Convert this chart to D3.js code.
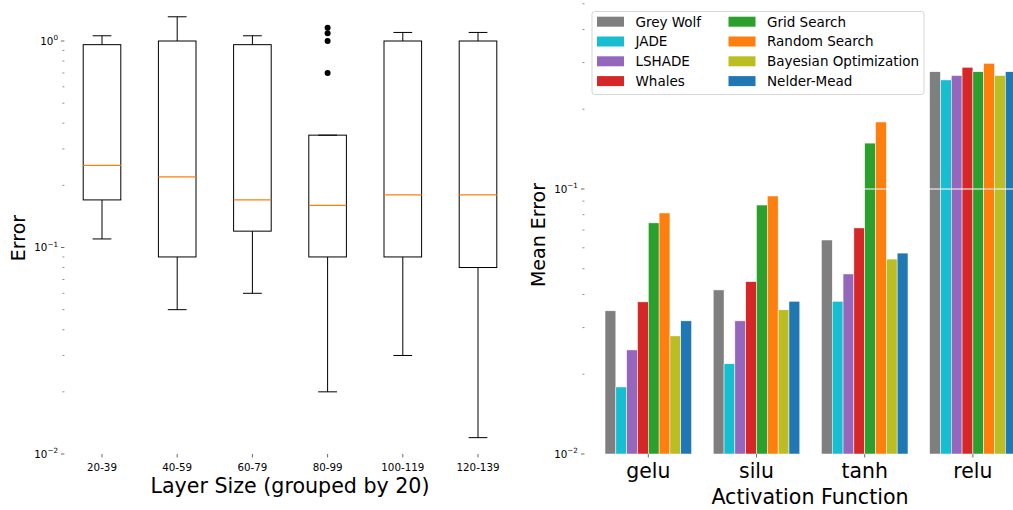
<!DOCTYPE html>
<html>
<head>
<meta charset="utf-8">
<script src="https://cdn.jsdelivr.net/npm/d3@7"></script>
<style>
  body { margin: 0; background: #fff; }
  text { font-family: "DejaVu Sans", sans-serif; fill: #000; }
</style>
</head>
<body>
<svg width="1013" height="510"></svg>
<script>
// --- Data: left panel (box plot of error by layer size) ---
const layerGroups = ["20-39", "40-59", "60-79", "80-99", "100-119", "120-139"];
const whiskLow  = [0.11, 0.05, 0.06, 0.02, 0.03, 0.012];
const q1        = [0.17, 0.09, 0.12, 0.09, 0.09, 0.08];
const medians   = [0.25, 0.22, 0.17, 0.16, 0.18, 0.18];
const q3        = [0.96, 1.0, 0.96, 0.35, 1.0, 1.0];
const whiskHigh = [1.06, 1.31, 1.06, 0.35, 1.1, 1.1];
const fliers    = [[], [], [], [1.16, 1.09, 1.0, 0.70], [], []];

// --- Data: right panel (mean error by activation) ---
const activations = ["gelu", "silu", "tanh", "relu"];
const methods = ["Grey Wolf", "JADE", "LSHADE", "Whales", "Grid Search", "Random Search", "Bayesian Optimization", "Nelder-Mead"];
const methodColors = ["#7f7f7f", "#17becf", "#9467bd", "#d62728", "#2ca02c", "#ff7f0e", "#bcbd22", "#1f77b4"];
const greyWolf     = [0.0347, 0.0416, 0.0642, 0.277];
const jade         = [0.0179, 0.0219, 0.0377, 0.258];
const lshade       = [0.0247, 0.0318, 0.0478, 0.268];
const whales       = [0.0375, 0.0447, 0.0713, 0.288];
const gridSearch   = [0.0745, 0.0870, 0.149, 0.277];
const randomSearch = [0.0812, 0.0941, 0.179, 0.298];
const bayesOpt     = [0.0279, 0.0350, 0.0544, 0.268];
const nelderMead   = [0.0318, 0.0377, 0.0573, 0.277];
const methodValues = [greyWolf, jade, lshade, whales, gridSearch, randomSearch, bayesOpt, nelderMead];

const svg = d3.select("svg");

// helper: minor tick values for log axes
function minorTicks(lo, hi) {
    const out = [];
    for (let e = -3; e <= 1; e++) {
        for (let m = 2; m <= 9; m++) {
            const v = m * Math.pow(10, e);
            if (v > lo && v < hi) out.push(v);
        }
    }
    return out;
}

function powLabel(sel, exp, x, y) {
    const t = sel.append("text")
        .attr("x", x).attr("y", y)
        .attr("text-anchor", "end")
        .attr("font-size", "10.3px");
    t.append("tspan").text("10");
    t.append("tspan").attr("dy", -4.5).attr("font-size", "7.2px")
        .text(exp < 0 ? "\u2212" + (-exp) : String(exp));
}

// ================= LEFT PANEL =================
const L = svg.append("g");
const xL = d3.scaleLinear().domain([0.5, 6.5]).range([64.4, 515.6]);
const yL = d3.scaleLog().domain([0.01, 1]).range([454, 41]);
const boxW = xL(0.25) - xL(0);

// y ticks
[0.01, 0.1, 1].forEach((v, i) => {
    L.append("line").attr("x1", 61).attr("x2", 64.4)
        .attr("y1", yL(v)).attr("y2", yL(v))
        .attr("stroke", "#444").attr("stroke-width", 0.8);
    powLabel(L, i - 2, 58, yL(v) + 3.6);
});
minorTicks(0.01, 1).forEach(v => {
    L.append("line").attr("x1", 62.4).attr("x2", 64.4)
        .attr("y1", yL(v)).attr("y2", yL(v))
        .attr("stroke", "#444").attr("stroke-width", 0.6);
});

// x ticks
layerGroups.forEach((g, i) => {
    const x = xL(i + 1);
    L.append("line").attr("x1", x).attr("x2", x).attr("y1", 454).attr("y2", 457.5)
        .attr("stroke", "#444").attr("stroke-width", 0.8);
    L.append("text").attr("x", x).attr("y", 471).attr("text-anchor", "middle")
        .attr("font-size", "10.3px").text(g);
});

// boxes
layerGroups.forEach((g, i) => {
    const x = xL(i + 1);
    const gb = L.append("g");
    // whiskers
    gb.append("line").attr("x1", x).attr("x2", x).attr("y1", yL(q1[i])).attr("y2", yL(whiskLow[i]))
        .attr("stroke", "#000").attr("stroke-width", 1);
    gb.append("line").attr("x1", x).attr("x2", x).attr("y1", yL(q3[i])).attr("y2", yL(whiskHigh[i]))
        .attr("stroke", "#000").attr("stroke-width", 1);
    // caps
    [whiskLow[i], whiskHigh[i]].forEach(v => {
        gb.append("line").attr("x1", x - boxW / 2).attr("x2", x + boxW / 2)
            .attr("y1", yL(v)).attr("y2", yL(v))
            .attr("stroke", "#000").attr("stroke-width", 1);
    });
    // box
    gb.append("rect").attr("x", x - boxW).attr("width", 2 * boxW)
        .attr("y", yL(q3[i])).attr("height", yL(q1[i]) - yL(q3[i]))
        .attr("fill", "none").attr("stroke", "#000").attr("stroke-width", 1);
    // median
    gb.append("line").attr("x1", x - boxW).attr("x2", x + boxW)
        .attr("y1", yL(medians[i])).attr("y2", yL(medians[i]))
        .attr("stroke", "#ff7f0e").attr("stroke-width", 1.2);
    // outliers
    fliers[i].forEach(v => {
        gb.append("circle").attr("cx", x).attr("cy", yL(v)).attr("r", 3).attr("fill", "#000");
    });
});

L.append("text").attr("x", 290).attr("y", 493).attr("text-anchor", "middle")
    .attr("font-size", "20.6px").text("Layer Size (grouped by 20)");
L.append("text").attr("transform", "translate(25,238) rotate(-90)").attr("text-anchor", "middle")
    .attr("font-size", "19px").text("Error");

// ================= RIGHT PANEL =================
const R = svg.append("g");
const xR = d3.scaleLinear().domain([0, 1]).range([648.3, 756.5]);
const yR = d3.scaleLog().domain([0.01, 0.1]).range([454, 189]);
const axisLeftR = xR(-0.59);
const barW = xR(0.1) - xR(0);

// bars
activations.forEach((a, i) => {
    methodValues.forEach((vals, j) => {
        const x0 = xR(i - 0.4 + j * 0.1);
        R.append("rect").attr("x", x0).attr("width", barW)
            .attr("y", yR(vals[i])).attr("height", 454 - yR(vals[i]))
            .attr("fill", methodColors[j])
            .attr("stroke", "#fff").attr("stroke-width", 0.5);
    });
});

// white grid line at 10^-1
R.append("line").attr("x1", axisLeftR).attr("x2", 1013)
    .attr("y1", yR(0.1)).attr("y2", yR(0.1))
    .attr("stroke", "#fff").attr("stroke-width", 1);

// y ticks
[0.01, 0.1].forEach((v, i) => {
    R.append("line").attr("x1", axisLeftR - 3.5).attr("x2", axisLeftR)
        .attr("y1", yR(v)).attr("y2", yR(v))
        .attr("stroke", "#444").attr("stroke-width", 0.8);
    powLabel(R, i - 2, axisLeftR - 6.5, yR(v) + 3.6);
});
minorTicks(0.01, 0.52).forEach(v => {
    R.append("line").attr("x1", axisLeftR - 2).attr("x2", axisLeftR)
        .attr("y1", yR(v)).attr("y2", yR(v))
        .attr("stroke", "#444").attr("stroke-width", 0.6);
});

// x ticks
activations.forEach((a, i) => {
    const x = xR(i);
    R.append("line").attr("x1", x).attr("x2", x).attr("y1", 454).attr("y2", 457.5)
        .attr("stroke", "#444").attr("stroke-width", 0.8);
    R.append("text").attr("x", x).attr("y", 478).attr("text-anchor", "middle")
        .attr("font-size", "20.4px").text(a);
});

R.append("text").attr("x", 810).attr("y", 504).attr("text-anchor", "middle")
    .attr("font-size", "20.6px").text("Activation Function");
R.append("text").attr("transform", "translate(545,235) rotate(-90)").attr("text-anchor", "middle")
    .attr("font-size", "19px").text("Mean Error");

// legend
const leg = R.append("g");
leg.append("rect").attr("x", 592).attr("y", 11.5).attr("width", 332).attr("height", 83)
    .attr("rx", 2.5).attr("fill", "#fff").attr("fill-opacity", 0.8)
    .attr("stroke", "#ccc").attr("stroke-width", 0.8);
methods.forEach((m, j) => {
    const col = Math.floor(j / 4), row = j % 4;
    const px = col === 0 ? 597 : 728.5;
    const cy = 21.7 + row * 19.8;
    leg.append("rect").attr("x", px).attr("y", cy - 5).attr("width", 27).attr("height", 10)
        .attr("fill", methodColors[j]);
    leg.append("text").attr("x", px + 38.5).attr("y", cy + 4.8)
        .attr("font-size", "13.5px").text(m);
});
</script>
</body>
</html>
